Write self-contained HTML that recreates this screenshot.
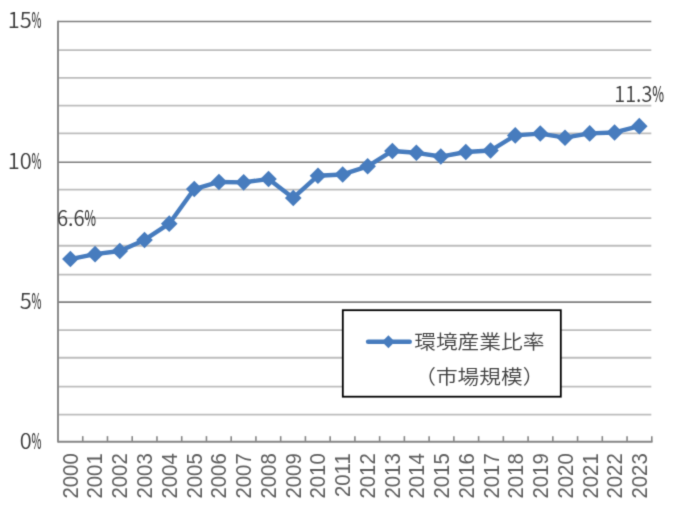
<!DOCTYPE html>
<html lang="ja">
<head>
<meta charset="utf-8">
<title>環境産業比率（市場規模）</title>
<style>
html,body{margin:0;padding:0;background:#fff;}
body{width:676px;height:514px;overflow:hidden;}
svg{display:block;}
.jp{font-family:"Liberation Sans","Noto Sans CJK JP",sans-serif;}
.nt{font-family:"Noto Sans CJK JP","Liberation Sans",sans-serif;font-weight:350;}
.pc{font-weight:500;}
.en{font-family:"Liberation Sans","Noto Sans CJK JP",sans-serif;}
</style>
</head>
<body>
<svg width="676" height="514" viewBox="0 0 676 514">
<defs>
<filter id="soft" filterUnits="userSpaceOnUse" x="0" y="0" width="676" height="514" color-interpolation-filters="sRGB">
<feConvolveMatrix order="3" kernelMatrix="0.01917 0.10012 0.01917 0.10012 0.52283 0.10012 0.01917 0.10012 0.01917" edgeMode="duplicate" preserveAlpha="true"/>
</filter>
</defs>
<g filter="url(#soft)">
<rect x="0" y="0" width="676" height="514" fill="#ffffff"/>

<g fill="none">
<line x1="58.00" y1="414.60" x2="651.30" y2="414.60" stroke="#bdbdbd" stroke-width="1.9"/>
<line x1="58.00" y1="386.65" x2="651.30" y2="386.65" stroke="#bdbdbd" stroke-width="1.9"/>
<line x1="58.00" y1="357.75" x2="651.30" y2="357.75" stroke="#bdbdbd" stroke-width="1.9"/>
<line x1="58.00" y1="330.15" x2="651.30" y2="330.15" stroke="#bdbdbd" stroke-width="1.9"/>
<line x1="58.00" y1="302.15" x2="651.30" y2="302.15" stroke="#7f7f7f" stroke-width="1.6"/>
<line x1="58.00" y1="274.65" x2="651.30" y2="274.65" stroke="#bdbdbd" stroke-width="1.9"/>
<line x1="58.00" y1="245.75" x2="651.30" y2="245.75" stroke="#bdbdbd" stroke-width="1.9"/>
<line x1="58.00" y1="218.15" x2="651.30" y2="218.15" stroke="#bdbdbd" stroke-width="1.9"/>
<line x1="58.00" y1="189.65" x2="651.30" y2="189.65" stroke="#bdbdbd" stroke-width="1.9"/>
<line x1="58.00" y1="162.30" x2="651.30" y2="162.30" stroke="#7f7f7f" stroke-width="1.6"/>
<line x1="58.00" y1="133.40" x2="651.30" y2="133.40" stroke="#bdbdbd" stroke-width="1.9"/>
<line x1="58.00" y1="105.60" x2="651.30" y2="105.60" stroke="#bdbdbd" stroke-width="1.9"/>
<line x1="58.00" y1="77.85" x2="651.30" y2="77.85" stroke="#bdbdbd" stroke-width="1.9"/>
<line x1="58.00" y1="50.15" x2="651.30" y2="50.15" stroke="#bdbdbd" stroke-width="1.9"/>
<line x1="58.00" y1="21.55" x2="651.30" y2="21.55" stroke="#7f7f7f" stroke-width="1.6"/>
</g>
<g stroke="#868686" stroke-width="1.9" fill="none">
<line x1="58.00" y1="20.85" x2="58.00" y2="442.45"/>
<line x1="58.00" y1="441.75" x2="652.50" y2="441.75"/>
<line x1="82.74" y1="441.75" x2="82.74" y2="436.15" stroke-width="1.6"/>
<line x1="107.48" y1="441.75" x2="107.48" y2="436.15" stroke-width="1.6"/>
<line x1="132.22" y1="441.75" x2="132.22" y2="436.15" stroke-width="1.6"/>
<line x1="156.97" y1="441.75" x2="156.97" y2="436.15" stroke-width="1.6"/>
<line x1="181.71" y1="441.75" x2="181.71" y2="436.15" stroke-width="1.6"/>
<line x1="206.45" y1="441.75" x2="206.45" y2="436.15" stroke-width="1.6"/>
<line x1="231.19" y1="441.75" x2="231.19" y2="436.15" stroke-width="1.6"/>
<line x1="255.93" y1="441.75" x2="255.93" y2="436.15" stroke-width="1.6"/>
<line x1="280.67" y1="441.75" x2="280.67" y2="436.15" stroke-width="1.6"/>
<line x1="305.42" y1="441.75" x2="305.42" y2="436.15" stroke-width="1.6"/>
<line x1="330.16" y1="441.75" x2="330.16" y2="436.15" stroke-width="1.6"/>
<line x1="354.90" y1="441.75" x2="354.90" y2="436.15" stroke-width="1.6"/>
<line x1="379.64" y1="441.75" x2="379.64" y2="436.15" stroke-width="1.6"/>
<line x1="404.38" y1="441.75" x2="404.38" y2="436.15" stroke-width="1.6"/>
<line x1="429.12" y1="441.75" x2="429.12" y2="436.15" stroke-width="1.6"/>
<line x1="453.87" y1="441.75" x2="453.87" y2="436.15" stroke-width="1.6"/>
<line x1="478.61" y1="441.75" x2="478.61" y2="436.15" stroke-width="1.6"/>
<line x1="503.35" y1="441.75" x2="503.35" y2="436.15" stroke-width="1.6"/>
<line x1="528.09" y1="441.75" x2="528.09" y2="436.15" stroke-width="1.6"/>
<line x1="552.83" y1="441.75" x2="552.83" y2="436.15" stroke-width="1.6"/>
<line x1="577.57" y1="441.75" x2="577.57" y2="436.15" stroke-width="1.6"/>
<line x1="602.32" y1="441.75" x2="602.32" y2="436.15" stroke-width="1.6"/>
<line x1="627.06" y1="441.75" x2="627.06" y2="436.15" stroke-width="1.6"/>
<line x1="651.80" y1="441.75" x2="651.80" y2="436.15" stroke-width="1.6"/>
</g>
<g class="nt" fill="#3c3c3c" text-anchor="end">
<text transform="translate(41.6,448.60) scale(1.05,1)" font-size="20.8">0<tspan class="pc" textLength="9.52" lengthAdjust="spacingAndGlyphs">%</tspan></text>
<text transform="translate(41.6,308.85) scale(1.05,1)" font-size="20.8">5<tspan class="pc" textLength="9.52" lengthAdjust="spacingAndGlyphs">%</tspan></text>
<text transform="translate(41.6,169.30) scale(1.05,1)" font-size="20.8">10<tspan class="pc" textLength="9.52" lengthAdjust="spacingAndGlyphs">%</tspan></text>
<text transform="translate(41.6,27.90) scale(1.05,1)" font-size="20.8">15<tspan class="pc" textLength="9.52" lengthAdjust="spacingAndGlyphs">%</tspan></text>
</g>
<g class="en" font-size="23" fill="#5e5e5e" text-anchor="end">
<text transform="translate(78.47,453.3) rotate(-90) scale(0.885,1)">2000</text>
<text transform="translate(102.41,453.3) rotate(-90) scale(0.885,1)">2001</text>
<text transform="translate(127.15,453.3) rotate(-90) scale(0.885,1)">2002</text>
<text transform="translate(151.90,453.3) rotate(-90) scale(0.885,1)">2003</text>
<text transform="translate(176.94,453.3) rotate(-90) scale(0.885,1)">2004</text>
<text transform="translate(201.68,453.3) rotate(-90) scale(0.885,1)">2005</text>
<text transform="translate(226.42,453.3) rotate(-90) scale(0.885,1)">2006</text>
<text transform="translate(251.16,453.3) rotate(-90) scale(0.885,1)">2007</text>
<text transform="translate(275.90,453.3) rotate(-90) scale(0.885,1)">2008</text>
<text transform="translate(300.65,453.3) rotate(-90) scale(0.885,1)">2009</text>
<text transform="translate(325.39,453.3) rotate(-90) scale(0.885,1)">2010</text>
<text transform="translate(350.13,453.3) rotate(-90) scale(0.885,1)">2011</text>
<text transform="translate(374.87,453.3) rotate(-90) scale(0.885,1)">2012</text>
<text transform="translate(399.61,453.3) rotate(-90) scale(0.885,1)">2013</text>
<text transform="translate(424.35,453.3) rotate(-90) scale(0.885,1)">2014</text>
<text transform="translate(449.10,453.3) rotate(-90) scale(0.885,1)">2015</text>
<text transform="translate(473.84,453.3) rotate(-90) scale(0.885,1)">2016</text>
<text transform="translate(498.58,453.3) rotate(-90) scale(0.885,1)">2017</text>
<text transform="translate(523.32,453.3) rotate(-90) scale(0.885,1)">2018</text>
<text transform="translate(548.06,453.3) rotate(-90) scale(0.885,1)">2019</text>
<text transform="translate(572.80,453.3) rotate(-90) scale(0.885,1)">2020</text>
<text transform="translate(597.55,453.3) rotate(-90) scale(0.885,1)">2021</text>
<text transform="translate(622.29,453.3) rotate(-90) scale(0.885,1)">2022</text>
<text transform="translate(647.03,453.3) rotate(-90) scale(0.885,1)">2023</text>
</g>
<polyline points="70.36,259.04 95.08,254.13 119.79,250.95 144.51,239.95 169.22,223.67 194.24,189.05 218.96,181.97 243.67,182.35 268.54,179.05 293.26,197.96 317.97,175.69 342.69,174.44 367.66,166.29 392.37,150.97 416.39,152.81 440.81,156.54 465.82,151.97 490.54,150.53 515.26,135.40 540.27,133.57 564.99,137.70 589.71,133.40 614.57,132.46 639.29,126.17" fill="none" stroke="#477cbe" stroke-width="4.4" stroke-linejoin="round" stroke-linecap="round"/>
<g fill="#477cbe">
<path d="M70.36 250.74 L78.66 259.04 L70.36 267.34 L62.06 259.04 Z"/>
<path d="M95.08 245.83 L103.38 254.13 L95.08 262.43 L86.78 254.13 Z"/>
<path d="M119.79 242.65 L128.09 250.95 L119.79 259.25 L111.49 250.95 Z"/>
<path d="M144.51 231.65 L152.81 239.95 L144.51 248.25 L136.21 239.95 Z"/>
<path d="M169.22 215.37 L177.52 223.67 L169.22 231.97 L160.92 223.67 Z"/>
<path d="M194.24 180.75 L202.54 189.05 L194.24 197.35 L185.94 189.05 Z"/>
<path d="M218.96 173.67 L227.26 181.97 L218.96 190.27 L210.66 181.97 Z"/>
<path d="M243.67 174.05 L251.97 182.35 L243.67 190.65 L235.37 182.35 Z"/>
<path d="M268.54 170.75 L276.84 179.05 L268.54 187.35 L260.24 179.05 Z"/>
<path d="M293.26 189.66 L301.56 197.96 L293.26 206.26 L284.96 197.96 Z"/>
<path d="M317.97 167.39 L326.27 175.69 L317.97 183.99 L309.67 175.69 Z"/>
<path d="M342.69 166.14 L350.99 174.44 L342.69 182.74 L334.39 174.44 Z"/>
<path d="M367.66 157.99 L375.96 166.29 L367.66 174.59 L359.36 166.29 Z"/>
<path d="M392.37 142.67 L400.67 150.97 L392.37 159.27 L384.07 150.97 Z"/>
<path d="M416.39 144.51 L424.69 152.81 L416.39 161.11 L408.09 152.81 Z"/>
<path d="M440.81 148.24 L449.11 156.54 L440.81 164.84 L432.51 156.54 Z"/>
<path d="M465.82 143.67 L474.12 151.97 L465.82 160.27 L457.52 151.97 Z"/>
<path d="M490.54 142.23 L498.84 150.53 L490.54 158.83 L482.24 150.53 Z"/>
<path d="M515.26 127.10 L523.56 135.40 L515.26 143.70 L506.96 135.40 Z"/>
<path d="M540.27 125.27 L548.57 133.57 L540.27 141.87 L531.97 133.57 Z"/>
<path d="M564.99 129.40 L573.29 137.70 L564.99 146.00 L556.69 137.70 Z"/>
<path d="M589.71 125.10 L598.01 133.40 L589.71 141.70 L581.41 133.40 Z"/>
<path d="M614.57 124.16 L622.87 132.46 L614.57 140.76 L606.27 132.46 Z"/>
<path d="M639.29 117.87 L647.59 126.17 L639.29 134.47 L630.99 126.17 Z"/>
</g>
<g class="nt" fill="#3c3c3c" text-anchor="end">
<text transform="translate(96.1,226.0) scale(0.95,1)" font-size="21.33">6.6<tspan class="pc" textLength="12.11" lengthAdjust="spacingAndGlyphs">%</tspan></text>
<text transform="translate(664.1,101.9) scale(0.93,1)" font-size="21.33">11.3<tspan class="pc" textLength="12.69" lengthAdjust="spacingAndGlyphs">%</tspan></text>
</g>
<rect x="342.8" y="310.2" width="218.0" height="86.5" fill="#ffffff" stroke="#000000" stroke-width="1.8"/>
<line x1="368.1" y1="341.85" x2="409.7" y2="341.85" stroke="#477cbe" stroke-width="4.5" stroke-linecap="round"/>
<path d="M388.4 335.35 L394.79999999999995 341.75 L388.4 348.15 L382.0 341.75 Z" fill="#477cbe"/>
<g class="jp" font-size="19.7" fill="#404040" style="font-weight:350">
<text transform="translate(414.2,348.6) scale(1.103,1)">環境産業比率</text>
<text transform="translate(414.2,383.9) scale(1.103,1)">（市場規模）</text>
</g>
</g>
</svg>
</body>
</html>
